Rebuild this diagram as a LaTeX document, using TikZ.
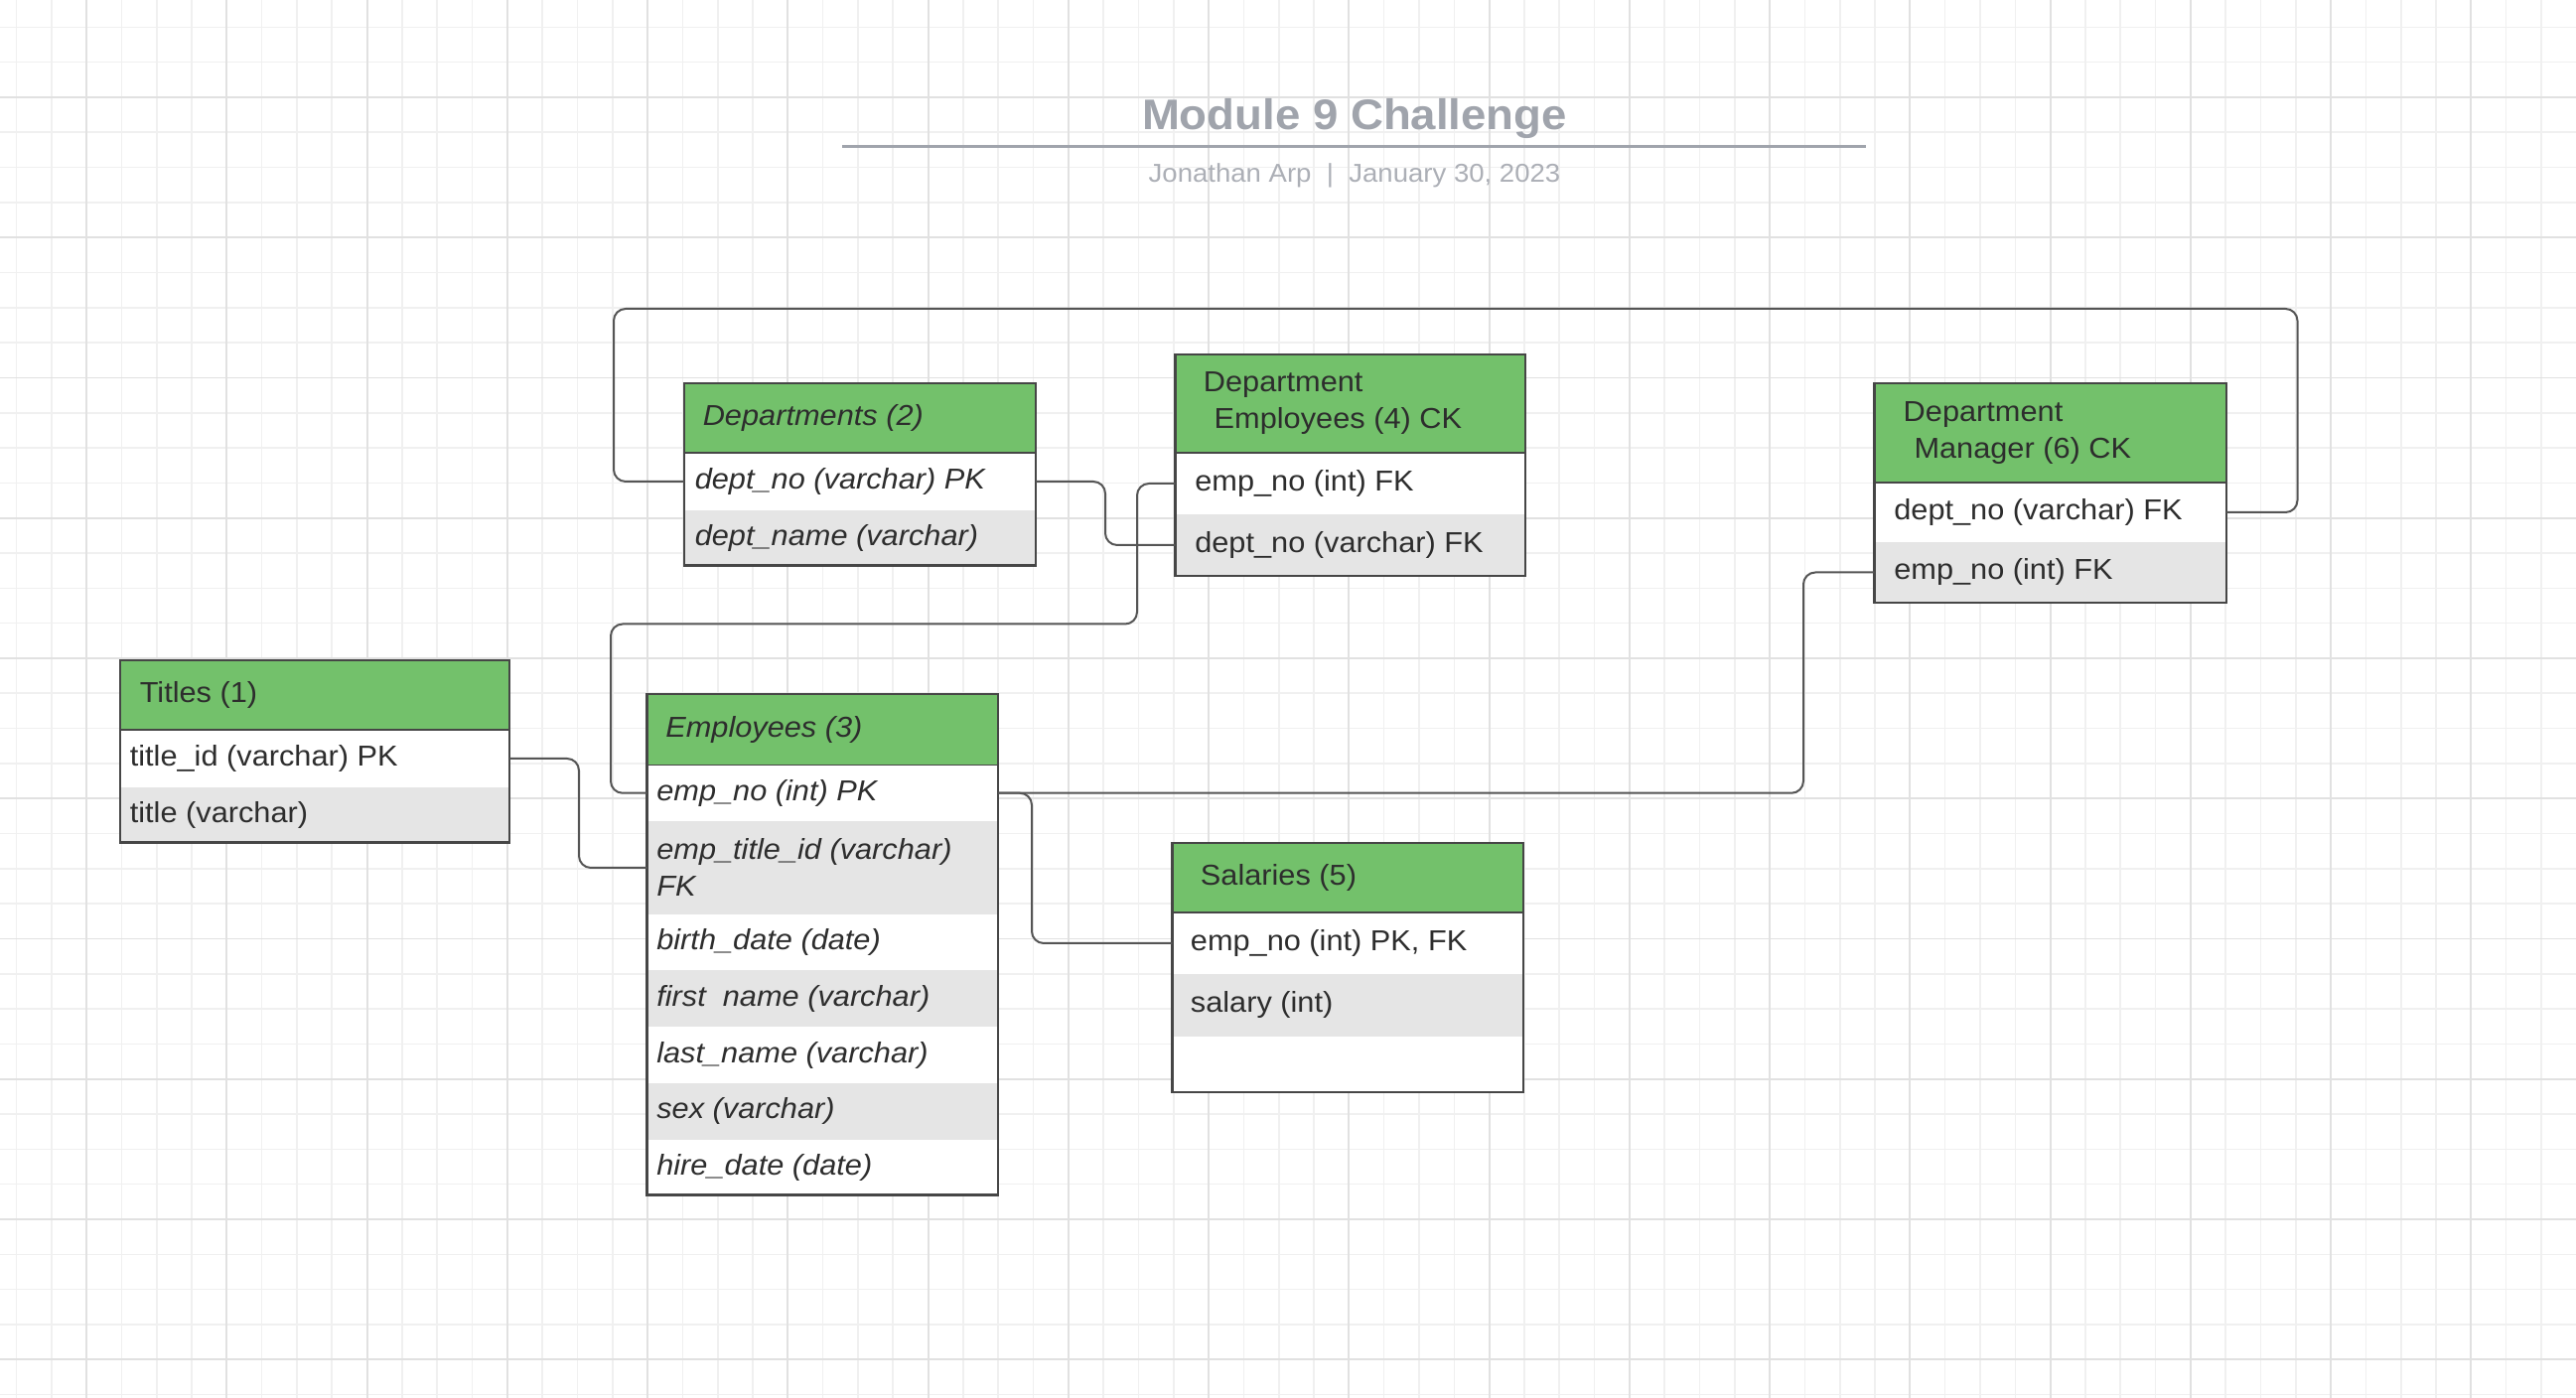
\documentclass[tikz,border=0pt]{standalone}
\usepackage{fontspec}
\setmainfont{Liberation Sans}[FakeStretch=1.06]
\usetikzlibrary{calc}
\definecolor{hdrgreen}{RGB}{115,193,107}
\definecolor{rowgray}{RGB}{229,229,229}
\definecolor{boxline}{RGB}{70,70,70}
\definecolor{connline}{RGB}{85,85,85}
\definecolor{txtcol}{RGB}{45,45,45}
\definecolor{titlecol}{RGB}{160,164,172}
\definecolor{subcol}{RGB}{172,175,182}
\definecolor{gridminor}{RGB}{240,240,240}
\definecolor{gridmajor}{RGB}{225,225,225}
\newcommand\rowfont{\fontsize{7.25pt}{9.25pt}\selectfont}
\begin{document}
\begin{tikzpicture}[x=0.25pt,y=-0.25pt,
  hdr/.style={rectangle, fill=hdrgreen, draw=boxline, line width=0.45pt, inner sep=0pt, outer sep=0pt, anchor=north west},
  roww/.style={rectangle, fill=white, inner sep=0pt, outer sep=0pt, anchor=north west},
  rowg/.style={rectangle, fill=rowgray, inner sep=0pt, outer sep=0pt, anchor=north west},
  txt/.style={anchor=west, inner sep=0pt, text=txtcol, font=\rowfont, align=left},
  itxt/.style={txt, font=\rowfont\itshape},
  outline/.style={draw=boxline, line width=0.6pt},
  conn/.style={draw=connline, line width=0.5pt, rounded corners=3pt},
  gmin/.style={draw=gridminor, line width=0.4pt},
  gmaj/.style={draw=gridmajor, line width=0.45pt}]
\useasboundingbox (0,0) rectangle (2594,1408);
\fill[white] (0,0) rectangle (2594,1408);
% grid
\foreach \i in {-2,...,71} \draw[gmin] ({87.1+35.3125*\i},0) -- ({87.1+35.3125*\i},1408);
\foreach \j in {-2,...,37} \draw[gmin] (0,{98+35.3125*\j}) -- (2594,{98+35.3125*\j});
\foreach \k in {0,...,17} \draw[gmaj] ({87.1+141.25*\k},0) -- ({87.1+141.25*\k},1408);
\foreach \k in {0,...,9} \draw[gmaj] (0,{98+141.25*\k}) -- (2594,{98+141.25*\k});

% title
\node[anchor=base, inner sep=0pt, text=titlecol, font=\fontsize{10.75pt}{12pt}\selectfont\bfseries] (title) at (1364,130.7) {Module 9 Challenge};
\draw[draw=titlecol, line width=0.7pt] (848,147.7) -- (1879,147.7);
\node[anchor=base, inner sep=0pt, text=subcol, font=\fontsize{6.5pt}{8pt}\selectfont] (subtitle) at (1364,184) {Jonathan Arp \ | \ January 30, 2023};

% Titles (1)
\node[hdr, minimum width=98pt, minimum height=17.5pt] (titH) at (121,665) {};
\node[roww, minimum width=98pt, minimum height=14.5pt] (tit1) at (titH.south west) {};
\node[rowg, minimum width=98pt, minimum height=13.875pt] (tit2) at (tit1.south west) {};
\draw[outline] (titH.north west) rectangle (tit2.south east);
\draw[boxline, line width=0.45pt] (titH.south west) -- (titH.south east);
\node[txt] (titHt) at ([xshift=4.75pt]titH.west) {Titles (1)};
\node[txt] (tit1t) at ([xshift=2.25pt]tit1.west) {title\_id (varchar) PK};
\node[txt] (tit2t) at ([xshift=2.25pt]tit2.west) {title (varchar)};

% Departments (2)
\node[hdr, minimum width=88.5pt, minimum height=17.5pt] (depH) at (689,386) {};
\node[roww, minimum width=88.5pt, minimum height=14.5pt] (dep1) at (depH.south west) {};
\node[rowg, minimum width=88.5pt, minimum height=13.875pt] (dep2) at (dep1.south west) {};
\draw[outline] (depH.north west) rectangle (dep2.south east);
\draw[boxline, line width=0.45pt] (depH.south west) -- (depH.south east);
\node[itxt] (depHt) at ([xshift=4.5pt]depH.west) {Departments (2)};
\node[itxt] (dep1t) at ([xshift=2.5pt]dep1.west) {dept\_no (varchar) PK};
\node[itxt] (dep2t) at ([xshift=2.5pt]dep2.west) {dept\_name (varchar)};

% Department Employees (4) CK
\node[hdr, minimum width=88.125pt, minimum height=24.75pt] (deH) at (1183.5,357) {};
\node[roww, minimum width=88.125pt, minimum height=15.5pt] (de1) at (deH.south west) {};
\node[rowg, minimum width=88.125pt, minimum height=15.5pt] (de2) at (de1.south west) {};
\draw[outline] (deH.north west) rectangle (de2.south east);
\draw[boxline, line width=0.45pt] (deH.south west) -- (deH.south east);
\node[txt] (deHt) at ([xshift=6.9pt]deH.west) {Department\\\hspace*{2.7pt}Employees (4) CK};
\node[txt] (de1t) at ([xshift=4.75pt]de1.west) {emp\_no (int) FK};
\node[txt] (de2t) at ([xshift=4.75pt]de2.west) {dept\_no (varchar) FK};

% Department Manager (6) CK
\node[hdr, minimum width=88.625pt, minimum height=25pt] (mgH) at (1887.5,386) {};
\node[roww, minimum width=88.625pt, minimum height=15pt] (mg1) at (mgH.south west) {};
\node[rowg, minimum width=88.625pt, minimum height=15.25pt] (mg2) at (mg1.south west) {};
\draw[outline] (mgH.north west) rectangle (mg2.south east);
\draw[boxline, line width=0.45pt] (mgH.south west) -- (mgH.south east);
\node[txt] (mgHt) at ([xshift=7.1pt]mgH.west) {Department\\\hspace*{2.7pt}Manager (6) CK};
\node[txt] (mg1t) at ([xshift=4.75pt]mg1.west) {dept\_no (varchar) FK};
\node[txt] (mg2t) at ([xshift=4.75pt]mg2.west) {emp\_no (int) FK};

% Employees (3)
\node[hdr, minimum width=88.375pt, minimum height=17.875pt] (emH) at (651.5,699) {};
\node[roww, minimum width=88.375pt, minimum height=14.125pt] (em1) at (emH.south west) {};
\node[rowg, minimum width=88.375pt, minimum height=23.5pt] (em2) at (em1.south west) {};
\node[roww, minimum width=88.375pt, minimum height=14pt] (em3) at (em2.south west) {};
\node[rowg, minimum width=88.375pt, minimum height=14.375pt] (em4) at (em3.south west) {};
\node[roww, minimum width=88.375pt, minimum height=14.125pt] (em5) at (em4.south west) {};
\node[rowg, minimum width=88.375pt, minimum height=14.25pt] (em6) at (em5.south west) {};
\node[roww, minimum width=88.375pt, minimum height=13.875pt] (em7) at (em6.south west) {};
\draw[outline] (emH.north west) rectangle (em7.south east);
\draw[boxline, line width=0.45pt] (emH.south west) -- (emH.south east);
\node[itxt] (emHt) at ([xshift=4.5pt]emH.west) {Employees (3)};
\node[itxt] (em1t) at ([xshift=2.25pt]em1.west) {emp\_no (int) PK};
\node[itxt] (em2t) at ([xshift=2.25pt]em2.west) {emp\_title\_id (varchar)\\FK};
\node[itxt] (em3t) at ([xshift=2.25pt]em3.west) {birth\_date (date)};
\node[itxt] (em4t) at ([xshift=2.25pt]em4.west) {first\ \ name (varchar)};
\node[itxt] (em5t) at ([xshift=2.25pt]em5.west) {last\_name (varchar)};
\node[itxt] (em6t) at ([xshift=2.25pt]em6.west) {sex (varchar)};
\node[itxt] (em7t) at ([xshift=2.25pt]em7.west) {hire\_date (date)};

% Salaries (5)
\node[hdr, minimum width=88.375pt, minimum height=17.5pt] (saH) at (1180.5,849) {};
\node[roww, minimum width=88.375pt, minimum height=15.5pt] (sa1) at (saH.south west) {};
\node[rowg, minimum width=88.375pt, minimum height=15.75pt] (sa2) at (sa1.south west) {};
\node[roww, minimum width=88.375pt, minimum height=14pt] (sa3) at (sa2.south west) {};
\draw[outline] (saH.north west) rectangle (sa3.south east);
\draw[boxline, line width=0.45pt] (saH.south west) -- (saH.south east);
\node[txt] (saHt) at ([xshift=6.9pt]saH.west) {Salaries (5)};
\node[txt] (sa1t) at ([xshift=4.4pt]sa1.west) {emp\_no (int) PK, FK};
\node[txt] (sa2t) at ([xshift=4.4pt]sa2.west) {salary (int)};

% connectors
\draw[conn] (dep1.west) -- ++(-71,0) |- (2313.5,311) |- (mg1.east);
\draw[conn] (dep1.east) -- ++(70,0) |- (de2.west);
\draw[conn] (de1.west) -- ++(-38.5,0) |- (615,628.5) |- (em1.west);
\draw[conn] (em1.east) -| ($(mg2.west)+(-71.5,0)$) -- (mg2.west);
\draw[conn] (em1.east) -- ++(34,0) |- (sa1.west);
\draw[conn] (tit1.east) -- ++(70,0) |- (em2.west);
\end{tikzpicture}
\end{document}
